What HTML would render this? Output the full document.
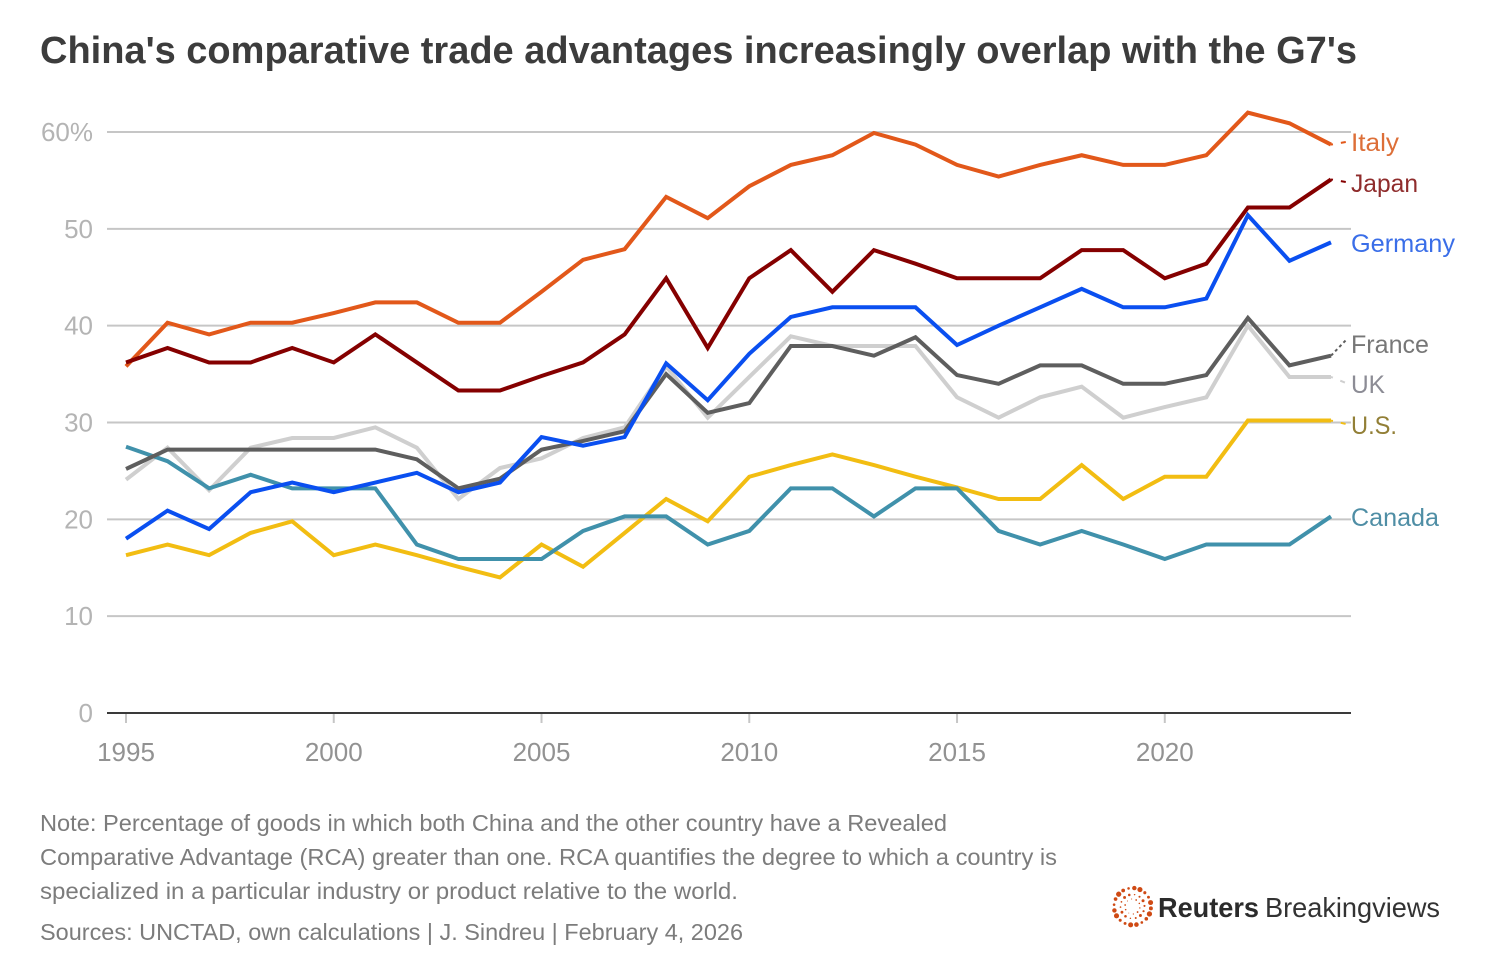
<!DOCTYPE html>
<html lang="en">
<head>
<meta charset="utf-8">
<title>China's comparative trade advantages</title>
<style>
html,body{margin:0;padding:0;background:#fff;width:1491px;height:964px;overflow:hidden}
svg{display:block}
text{font-family:"Liberation Sans",sans-serif}
</style>
</head>
<body>
<svg id="chart" width="1491" height="964" viewBox="0 0 1491 964" xmlns="http://www.w3.org/2000/svg">
  <rect width="1491" height="964" fill="#fff"/>
  <text x="40" y="63" font-size="38" font-weight="700" fill="#3c3c3c" textLength="1317" lengthAdjust="spacingAndGlyphs">China's comparative trade advantages increasingly overlap with the G7's</text>
  <g id="grid"></g>
  <g id="yticks"></g>
  <g id="xticks"></g>
  <g id="series"></g>
  <g id="labels">
    <text id="label-italy" x="1351" y="151" font-size="25" fill="#dd6f38" textLength="48" lengthAdjust="spacingAndGlyphs">Italy</text>
    <text id="label-japan" x="1351" y="192" font-size="25" fill="#8f2c2c" textLength="67" lengthAdjust="spacingAndGlyphs">Japan</text>
    <text id="label-germany" x="1351" y="252" font-size="25" fill="#3a6ee8" textLength="104" lengthAdjust="spacingAndGlyphs">Germany</text>
    <text id="label-france" x="1351" y="353" font-size="25" fill="#777" textLength="78" lengthAdjust="spacingAndGlyphs">France</text>
    <text id="label-uk" x="1351" y="393" font-size="25" fill="#8c8c95" textLength="34" lengthAdjust="spacingAndGlyphs">UK</text>
    <text id="label-us" x="1351" y="434" font-size="25" fill="#927f36" textLength="46" lengthAdjust="spacingAndGlyphs">U.S.</text>
    <text id="label-canada" x="1351" y="526" font-size="25" fill="#4f8ea5" textLength="88" lengthAdjust="spacingAndGlyphs">Canada</text>
  </g>
  <g font-size="23.5" fill="#7c7c7c">
    <text x="40" y="831" textLength="907" lengthAdjust="spacingAndGlyphs">Note: Percentage of goods in which both China and the other country have a Revealed</text>
    <text x="40" y="865" textLength="1017" lengthAdjust="spacingAndGlyphs">Comparative Advantage (RCA) greater than one. RCA quantifies the degree to which a country is</text>
    <text x="40" y="899" textLength="698" lengthAdjust="spacingAndGlyphs">specialized in a particular industry or product relative to the world.</text>
    <text x="40" y="940" textLength="703" lengthAdjust="spacingAndGlyphs">Sources: UNCTAD, own calculations | J. Sindreu | February 4, 2026</text>
  </g>
  <g id="logo">
    <g id="logo-dots"></g>
    <text x="1158" y="917" font-size="28" font-weight="700" fill="#2b2b2b" textLength="101" lengthAdjust="spacingAndGlyphs">Reuters</text>
    <text x="1265" y="917" font-size="28" fill="#333" textLength="175" lengthAdjust="spacingAndGlyphs">Breakingviews</text>
  </g>
</svg>
<script>
const years = [1995,1996,1997,1998,1999,2000,2001,2002,2003,2004,2005,2006,2007,2008,2009,2010,2011,2012,2013,2014,2015,2016,2017,2018,2019,2020,2021,2022,2023,2024];
const italy = [35.8,40.3,39.1,40.3,40.3,41.3,42.4,42.4,40.3,40.3,43.5,46.8,47.9,53.3,51.1,54.4,56.6,57.6,59.9,58.7,56.6,55.4,56.6,57.6,56.6,56.6,57.6,62.0,60.9,58.7];
const japan = [36.2,37.7,36.2,36.2,37.7,36.2,39.1,36.2,33.3,33.3,34.8,36.2,39.1,44.9,37.7,44.9,47.8,43.5,47.8,46.4,44.9,44.9,44.9,47.8,47.8,44.9,46.4,52.2,52.2,55.1];
const germany = [18.0,20.9,19.0,22.8,23.8,22.8,23.8,24.8,22.8,23.8,28.5,27.6,28.5,36.1,32.3,37.1,40.9,41.9,41.9,41.9,38.0,40.0,41.9,43.8,41.9,41.9,42.8,51.4,46.7,48.6];
const france = [25.2,27.2,27.2,27.2,27.2,27.2,27.2,26.2,23.2,24.2,27.2,28.1,29.1,35.0,31.0,32.0,37.9,37.9,36.9,38.8,34.9,34.0,35.9,35.9,34.0,34.0,34.9,40.8,35.9,36.9];
const uk = [24.1,27.4,23.0,27.4,28.4,28.4,29.5,27.4,22.1,25.3,26.3,28.4,29.5,35.8,30.5,34.7,38.9,37.9,37.9,37.9,32.6,30.5,32.6,33.7,30.5,31.6,32.6,40.0,34.7,34.7];
const us = [16.3,17.4,16.3,18.6,19.8,16.3,17.4,16.3,15.1,14.0,17.4,15.1,18.6,22.1,19.8,24.4,25.6,26.7,25.6,24.4,23.3,22.1,22.1,25.6,22.1,24.4,24.4,30.2,30.2,30.2];
const canada = [27.5,26.0,23.2,24.6,23.2,23.2,23.2,17.4,15.9,15.9,15.9,18.8,20.3,20.3,17.4,18.8,23.2,23.2,20.3,23.2,23.2,18.8,17.4,18.8,17.4,15.9,17.4,17.4,17.4,20.3];
const yTickValues = [0,10,20,30,40,50,60];
const yTickLabels = ["0","10","20","30","40","50","60%"];
const xTickValues = [1995,2000,2005,2010,2015,2020];

const NS = "http://www.w3.org/2000/svg";
function x(year){ return 126 + (year - 1995) * (1331 - 126) / 29; }
function y(value){ return 713 - value * (713 - 132) / 60; }
function make(tag, attrs, parent){
  const el = document.createElementNS(NS, tag);
  for (const k in attrs) el.setAttribute(k, attrs[k]);
  parent.appendChild(el);
  return el;
}
const grid = document.getElementById("grid");
const yticks = document.getElementById("yticks");
const xticks = document.getElementById("xticks");
const seriesLayer = document.getElementById("series");

yTickValues.forEach(function(v, i){
  if (v !== 0) {
    const g = make("line", {x1:107, x2:1351, y1:y(v), y2:y(v), stroke:"#c6c6c6", "stroke-width":2}, grid);
    
    
  }
  const t = make("text", {x:93, y:y(v)+9, "text-anchor":"end", "font-size":26, fill:"#b4b4b4"}, yticks);
  t.textContent = yTickLabels[i];
  
  
});

xTickValues.forEach(function(yr){
  const tick = make("line", {x1:x(yr), x2:x(yr), y1:713, y2:723, stroke:"#c6c6c6", "stroke-width":2}, xticks);
  
  
  const t = make("text", {x:x(yr), y:761, "text-anchor":"middle", "font-size":26, fill:"#929292"}, xticks);
  t.textContent = yr;
  
  
});
const base = make("line", {x1:107, x2:1351, y1:713, y2:713, stroke:"#3a3a3a", "stroke-width":2}, xticks);



function drawSeries(values, color, seriesName, leaderEnd, dash){
  const d = values.map(function(v, i){ return (i ? "L" : "M") + x(years[i]).toFixed(2) + " " + y(v).toFixed(2); }).join("");
  const path = make("path", {d:d, fill:"none", stroke:color, "stroke-width":4, "stroke-linejoin":"miter", "stroke-linecap":"butt"}, seriesLayer);
  
  
  if (leaderEnd) {
    const last = values[values.length - 1];
    const lead = make("line", {x1:x(2024), y1:y(last), x2:1346, y2:leaderEnd, stroke:color, "stroke-width":2, "stroke-dasharray":dash}, seriesLayer);
    
    
  }
}
drawSeries(uk, "#cfcfcf", "line-uk", 383, "2 8 5 20");
drawSeries(us, "#f2bd12", "line-us", 424, "2 8 5 20");
drawSeries(canada, "#4091ab", "line-canada", null, "");
drawSeries(france, "#5e5e5e", "line-france", 340, "3 3");
drawSeries(italy, "#e2581a", "line-italy", 142, "2 8 5 20");
drawSeries(japan, "#850000", "line-japan", 182, "2 8 5 20");
drawSeries(germany, "#0a4ff0", "line-germany", null, "");

const logoDots = document.getElementById("logo-dots");
[[18.5,2.3,20,0.1],[12,1.3,14,0.4],[7.5,0.8,10,0.2]].forEach(function(ring){
  for (let i = 0; i < ring[2]; i++) {
    const a = (i / ring[2]) * Math.PI * 2 + ring[3];
    const wave = 0.85 + 0.3 * Math.sin(i * 1.7);
    const dot = make("circle", {cx:1132.5 + ring[0] * Math.cos(a), cy:906.5 + ring[0] * Math.sin(a), r:ring[1] * wave, fill:"#cf4a14"}, logoDots);
    
    
  }
});
</script>
</body>
</html>
